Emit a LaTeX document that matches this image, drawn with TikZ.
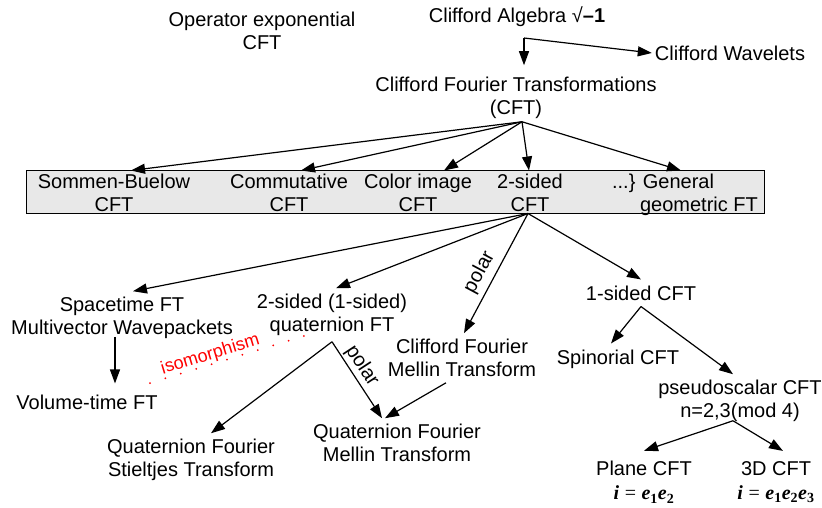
\documentclass[tikz,border=0pt]{standalone}
\usepackage{fontspec}
\setmainfont{Liberation Sans}
\newfontfamily\formfont{Liberation Serif}
\usepackage{xcolor}
\usepackage{tikz}
\usetikzlibrary{arrows.meta}
\definecolor{boxgray}{RGB}{232,232,232}
\definecolor{isored}{RGB}{255,0,0}
\newcommand{\bvec}[1]{{\formfont\bfseries\itshape #1}}
\newcommand{\bsub}[1]{\textsubscript{\formfont\bfseries #1}}

\begin{document}
\begin{tikzpicture}[x=1pt, y=-1pt]
    \tikzstyle{term} = [inner xsep=3pt, inner ysep=6pt, align=center, font=\fontsize{20}{22.5}\selectfont]
    \tikzstyle{rowbox} = [rectangle, minimum width=738pt, minimum height=42pt, draw=black, line width=1pt, fill=boxgray]
    \tikzstyle{arr} = [-{Triangle[length=14pt, width=10pt]}, line width=1.2pt]
    \tikzstyle{isoline} = [draw=isored, line width=2pt, line cap=round, dash pattern=on 0pt off 16.1pt]
    \tikzstyle{note} = [sloped, above, inner sep=2pt, font=\fontsize{20}{22}\selectfont]

    \useasboundingbox (0,0) rectangle (822,508);

    % Top part
    \node [term] (opexp) at (262,31) {Operator exponential\\CFT};
    \node [term] (algebra) at (517,17) {Clifford Algebra √\textbf{–1}};
    \coordinate (split) at (524,38);
    \node [term] (wavelets) at (730,53) {Clifford Wavelets};
    \node [term] (cft) at (516,98) {Clifford Fourier Transformations\\(CFT)};

    % Row of CFT kinds
    \node [rowbox] (row) at (395,192) {};
    \node [term, anchor=north] (sommen) at (114,168) {Sommen-Buelow\\CFT};
    \node [term, anchor=north] (commut) at (289,168) {Commutative\\CFT};
    \node [term, anchor=north] (colorimg) at (418,168) {Color image\\CFT};
    \node [term, anchor=north] (twosided) at (530,168) {2-sided\\CFT};
    \node [term, anchor=north, align=left] (general) at (685,168) {...\} General\\\hspace*{28pt}geometric FT};

    % Below the 2-sided CFT
    \node [term] (spacetime) at (122,318) {Spacetime FT\\Multivector Wavepackets};
    \node [term] (volume) at (87,402) {Volume-time FT};
    \node [term] (quatft) at (332,315) {2-sided (1-sided)\\quaternion FT};
    \node [term] (cfmellin) at (462,358) {Clifford Fourier\\Mellin Transform};
    \node [term] (stieltjes) at (191,460) {Quaternion Fourier\\Stieltjes Transform};
    \node [term] (qfmellin) at (397,443) {Quaternion Fourier\\Mellin Transform};

    % 1-sided branch
    \node [term] (onesided) at (641,293) {1-sided CFT};
    \node [term] (spinorial) at (618,359) {Spinorial CFT};
    \node [term] (pseudo) at (740,401) {pseudoscalar CFT\\n=2,3(mod 4)};
    \node [term] (plane) at (644,482) {Plane CFT\\[2pt]\bvec{i} {\formfont =} \bvec{e}\bsub{1}\bvec{e}\bsub{2}};
    \node [term] (threed) at (776,482) {3D CFT\\[2pt]\bvec{i} {\formfont =} \bvec{e}\bsub{1}\bvec{e}\bsub{2}\bvec{e}\bsub{3}};

    % Arrows
    \draw [arr, shorten >=6pt] (split) -- (split |- cft.north);
    \draw [arr] (split) -- (wavelets.west);

    \draw [arr] ([xshift=6pt, yshift=3pt]cft.south) -- ([xshift=17pt]row.north -| sommen);
    \draw [arr] ([xshift=6pt, yshift=3pt]cft.south) -- ([xshift=12pt]row.north -| commut);
    \draw [arr] ([xshift=6pt, yshift=3pt]cft.south) -- ([xshift=26pt]row.north -| colorimg);
    \draw [arr] ([xshift=6pt, yshift=3pt]cft.south) -- ([xshift=-1pt]row.north -| twosided);
    \draw [arr] ([xshift=6pt, yshift=3pt]cft.south) -- ([xshift=-4pt]row.north -| general);

    \draw [arr] ([xshift=-2pt]row.south -| twosided) -- ([xshift=11pt]spacetime.north);
    \draw [arr] ([xshift=-2pt]row.south -| twosided) -- ([xshift=4pt]quatft.north);
    \draw [arr] ([xshift=-2pt]row.south -| twosided) -- ([xshift=2pt]cfmellin.north) node [note, pos=0.55, inner sep=5pt] {polar};
    \draw [arr] ([xshift=-2pt]row.south -| twosided) -- (onesided.north);

    \draw [arr, shorten <=-8pt, shorten >=5pt] ([xshift=-7pt]spacetime.south) -- ([xshift=-7pt]spacetime.south |- volume.north);
    \draw [arr] (quatft.south) -- ([xshift=20pt]stieltjes.north);
    \draw [arr] (quatft.south) -- ([xshift=-15pt]qfmellin.north) node [note, pos=0.4] {polar};
    \draw [arr] ([xshift=-16pt]cfmellin.south) -- ([xshift=-12pt]qfmellin.north);

    \draw [arr] (onesided.south) -- ([xshift=-7pt]spinorial.north);
    \draw [arr] (onesided.south) -- ([xshift=-7pt]pseudo.north);
    \draw [arr] ([xshift=-7pt, yshift=7pt]pseudo.south) -- ([yshift=4pt]plane.north);
    \draw [arr] ([xshift=-7pt, yshift=7pt]pseudo.south) -- ([xshift=7pt, yshift=4pt]threed.north);

    % Isomorphism
    \coordinate (isoA) at (150,383);
    \coordinate (isoB) at (304,336);
    \draw [isoline] (isoA) -- (isoB) node [pos=0.41, sloped, above, inner sep=0pt, text=isored, font=\fontsize{18}{20}\selectfont] {isomorphism};
\end{tikzpicture}
\end{document}
